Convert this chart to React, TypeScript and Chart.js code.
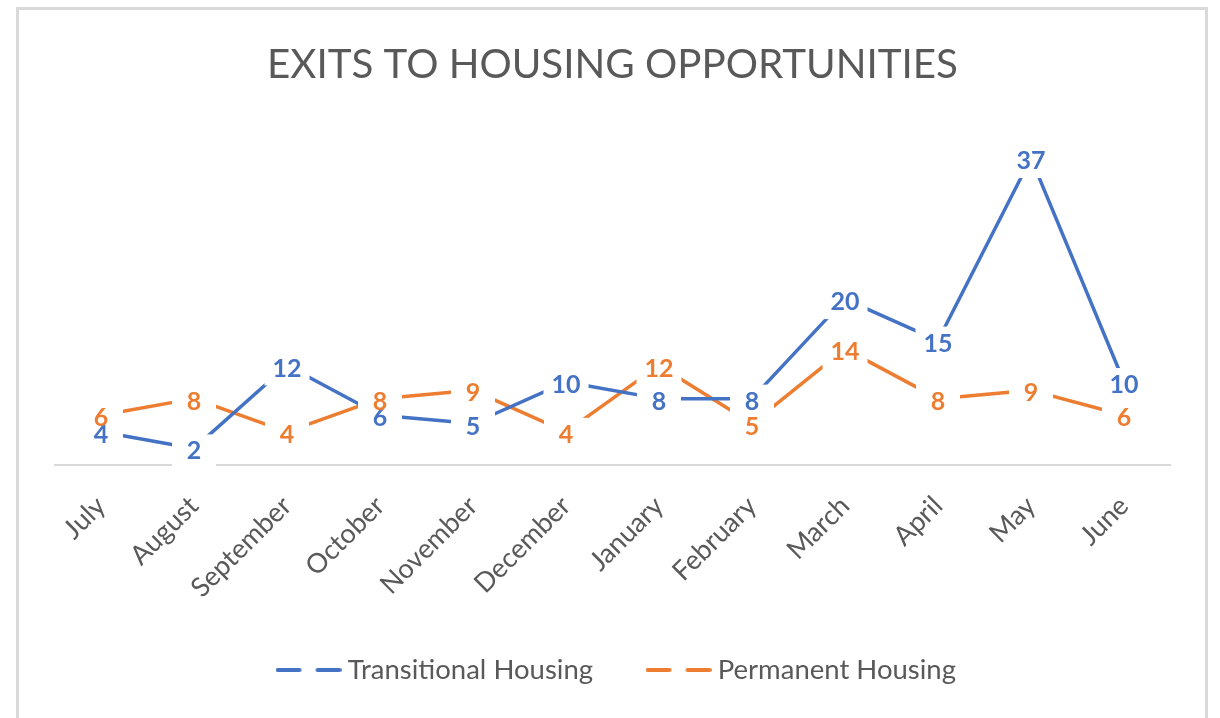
import React, { useEffect, useRef } from "react";
import { Chart, registerables } from "chart.js";

Chart.register(...registerables);

const months = [
  "July",
  "August",
  "September",
  "October",
  "November",
  "December",
  "January",
  "February",
  "March",
  "April",
  "May",
  "June",
];
const transitional = [4, 2, 12, 6, 5, 10, 8, 8, 20, 15, 37, 10];
const permanent = [6, 8, 4, 8, 9, 4, 12, 5, 14, 8, 9, 6];
const seriesNames = ["Transitional Housing", "Permanent Housing"];
const seriesColors = ["#4472C4", "#ED7D31"];
const titleText = "EXITS TO HOUSING OPPORTUNITIES";
const yMin = 0;
const yMax = 40;

const FONT = "Lato";
const TEXT_GRAY = "#595959";

const framePlugin = {
  id: "frame",
  afterLayout(chart: any) {
    if (chart.legend) {
      chart.legend.left += 7;
      chart.legend.right += 7;
    }
  },
  beforeDraw(chart: any) {
    const ctx = chart.ctx;
    ctx.save();
    ctx.fillStyle = "#ffffff";
    ctx.fillRect(0, 0, chart.width, chart.height);
    ctx.strokeStyle = "#d9d9d9";
    ctx.lineWidth = 3;
    ctx.strokeRect(17.5, 8.5, 1189, 780);
    ctx.restore();
  },
};

const dataLabelPlugin = {
  id: "dataLabels",
  afterDatasetsDraw(chart: any) {
    const ctx = chart.ctx;
    ctx.save();
    ctx.font = `bold 25px ${FONT}`;
    const items: any[] = [];
    chart.data.datasets.forEach((ds: any, di: number) => {
      const meta = chart.getDatasetMeta(di);
      meta.data.forEach((pt: any, i: number) => {
        const text = String(ds.data[i]);
        const w = ctx.measureText(text).width;
        items.push({ x: pt.x, y: pt.y + 3, text, w, color: ds.borderColor });
      });
    });
    ctx.fillStyle = "#ffffff";
    items.forEach((it) => {
      const hw = Math.max(it.w / 2 + 8, 22);
      ctx.fillRect(it.x - hw, it.y - 17, hw * 2, 34);
    });
    ctx.textAlign = "center";
    ctx.textBaseline = "middle";
    items.forEach((it) => {
      ctx.fillStyle = it.color;
      ctx.fillText(it.text, it.x, it.y);
    });
    ctx.restore();
  },
};

function makeLegendSymbol(color: string) {
  const c = document.createElement("canvas");
  c.width = 66;
  c.height = 6;
  const g = c.getContext("2d")!;
  g.strokeStyle = color;
  g.lineWidth = 4;
  g.lineCap = "round";
  g.beginPath();
  g.moveTo(2, 3);
  g.lineTo(24, 3);
  g.moveTo(42, 3);
  g.lineTo(64, 3);
  g.stroke();
  return c;
}

export default function App() {
  const canvasRef = useRef<HTMLCanvasElement | null>(null);

  useEffect(() => {
    let chart: Chart | null = null;
    let cancelled = false;
    const make = () => {
      if (cancelled || !canvasRef.current) return;
      const symbols = seriesColors.map(makeLegendSymbol);
      chart = new Chart(canvasRef.current, {
        type: "line",
        data: {
          labels: months,
          datasets: [
            {
              label: seriesNames[0],
              data: transitional,
              borderColor: seriesColors[0],
              backgroundColor: seriesColors[0],
              borderWidth: 3.5,
              pointRadius: 0,
              tension: 0,
              borderJoinStyle: "round",
            },
            {
              label: seriesNames[1],
              data: permanent,
              borderColor: seriesColors[1],
              backgroundColor: seriesColors[1],
              borderWidth: 3.5,
              pointRadius: 0,
              tension: 0,
              borderJoinStyle: "round",
            },
          ],
        },
        options: {
          animation: false,
          responsive: false,
          devicePixelRatio: 1,
          layout: { padding: { left: 54.5, right: 49.5, top: 0, bottom: 24.25 } },
          plugins: {
            title: {
              display: true,
              text: titleText,
              color: TEXT_GRAY,
              font: { family: FONT, size: 40.3, weight: "normal", lineHeight: 1.2 },
              padding: { top: 40.8, bottom: 44 },
            },
            legend: {
              position: "bottom",
              labels: {
                usePointStyle: true,
                pointStyleWidth: 51,
                color: TEXT_GRAY,
                font: { family: FONT, size: 27.5 },
                padding: 60,
                generateLabels: (c: any) =>
                  c.data.datasets.map((ds: any, i: number) => ({
                    text: ds.label,
                    fillStyle: ds.borderColor,
                    strokeStyle: ds.borderColor,
                    fontColor: TEXT_GRAY,
                    lineWidth: 0,
                    pointStyle: symbols[i],
                    hidden: false,
                    datasetIndex: i,
                  })),
              },
            },
            tooltip: { enabled: false },
          },
          scales: {
            x: {
              offset: true,
              grid: { display: false, drawTicks: false },
              border: { display: true, color: "#d9d9d9", width: 2 },
              ticks: {
                color: TEXT_GRAY,
                font: { family: FONT, size: 27 },
                minRotation: 45,
                maxRotation: 45,
                padding: 25,
                autoSkip: false,
              },
              afterFit: (s: any) => {
                s.height = 131.25;
                s.paddingLeft = 0;
                s.paddingRight = 0;
              },
            },
            y: { display: false, min: yMin, max: yMax },
          },
        },
        plugins: [framePlugin, dataLabelPlugin],
      } as any);
    };
    const fonts = (document as any).fonts;
    if (fonts && fonts.load) {
      Promise.all([
        fonts.load(`24px ${FONT}`),
        fonts.load(`bold 24px ${FONT}`),
      ])
        .catch(() => {})
        .then(make);
    } else {
      make();
    }
    return () => {
      cancelled = true;
      if (chart) chart.destroy();
    };
  }, []);

  return (
    <div style={{ position: "fixed", left: 0, top: 0, width: 1220, height: 718, background: "#fff" }}>
      <canvas ref={canvasRef} width={1220} height={718} style={{ display: "block" }} />
    </div>
  );
}
